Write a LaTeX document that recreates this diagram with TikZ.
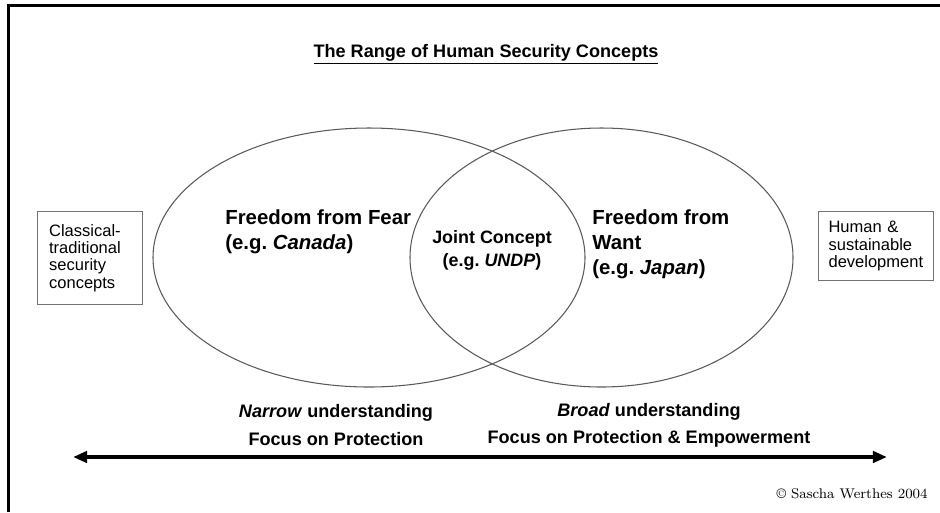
\documentclass[tikz,border=0pt]{standalone}
\usepackage{fontspec}
\setsansfont{Liberation Sans}
\usepackage{tikz}
\usetikzlibrary{arrows.meta,positioning}
\frenchspacing

\begin{document}
\begin{tikzpicture}[x=0.02cm,y=-0.02cm,
  venn/.style={draw=black!65,line width=0.6pt},
  conceptbox/.style={draw=black!55,line width=0.6pt,align=left,inner ysep=4pt,
    font=\sffamily\fontsize{9.4}{9.9}\selectfont},
  fieldtext/.style={inner sep=0pt,align=left,font=\sffamily\bfseries\fontsize{11.6}{14.2}\selectfont},
  jointtext/.style={inner sep=0pt,align=center,font=\sffamily\bfseries\fontsize{10.2}{13}\selectfont},
  scaletext/.style={inner sep=0pt,align=center,font=\sffamily\bfseries\fontsize{10.3}{15.4}\selectfont},
  spectrum/.style={{Triangle[length=8pt,width=6.4pt]}-{Triangle[length=8pt,width=6.4pt]},line width=2.1pt}]
\useasboundingbox (0,0) rectangle (940,512);
% frame
\coordinate (frameB) at (8.5,512);
\coordinate (frameR) at (940,5);
\draw[line width=1.7pt] (frameB) |- (frameR);
\node[inner sep=0pt,anchor=base,font=\sffamily\bfseries\fontsize{10.3}{12}\selectfont] (title) at (486,57) {\underline{The Range of Human Security Concepts}};
% the two concepts
\draw[venn] (369,257.5) ellipse [x radius=216, y radius=129.5];
\draw[venn] (601.5,257.5) ellipse [x radius=191.5, y radius=129.5];
\node[fieldtext,anchor=west] (fear) at (225,232) {Freedom from Fear\\(e.g. \textit{Canada})};
\node[jointtext] (joint) at (492,250) {Joint Concept\\(e.g. \textit{UNDP})};
\node[fieldtext,anchor=west] (want) at (592,244) {Freedom from\\Want\\(e.g. \textit{Japan})};
% outer boxes
\node[conceptbox,inner xsep=6.8pt,text width=46.5pt,minimum height=53.3pt] (classical) at (90,258) {Classical-\\traditional\\security\\concepts};
\node[conceptbox,inner xsep=5.9pt,text width=54pt,minimum height=39.7pt] (development) at (876,246) {Human \&\\sustainable\\development};
% understanding
\node[scaletext] (narrow) at (336,425) {\textit{Narrow} understanding\\Focus on Protection};
\node[scaletext] (broad) at (649,425) {\textit{Broad} understanding\\Focus on Protection \& Empowerment};
\coordinate (narrowEnd) at (73,457);
\coordinate (broadEnd) at (887,457);
\draw[spectrum] (narrowEnd) -- (broadEnd);
\node[inner sep=0pt,anchor=east,font=\fontsize{8}{9}\selectfont] (copyright) at (928,494) {\copyright{} Sascha Werthes 2004};
\end{tikzpicture}
\end{document}
